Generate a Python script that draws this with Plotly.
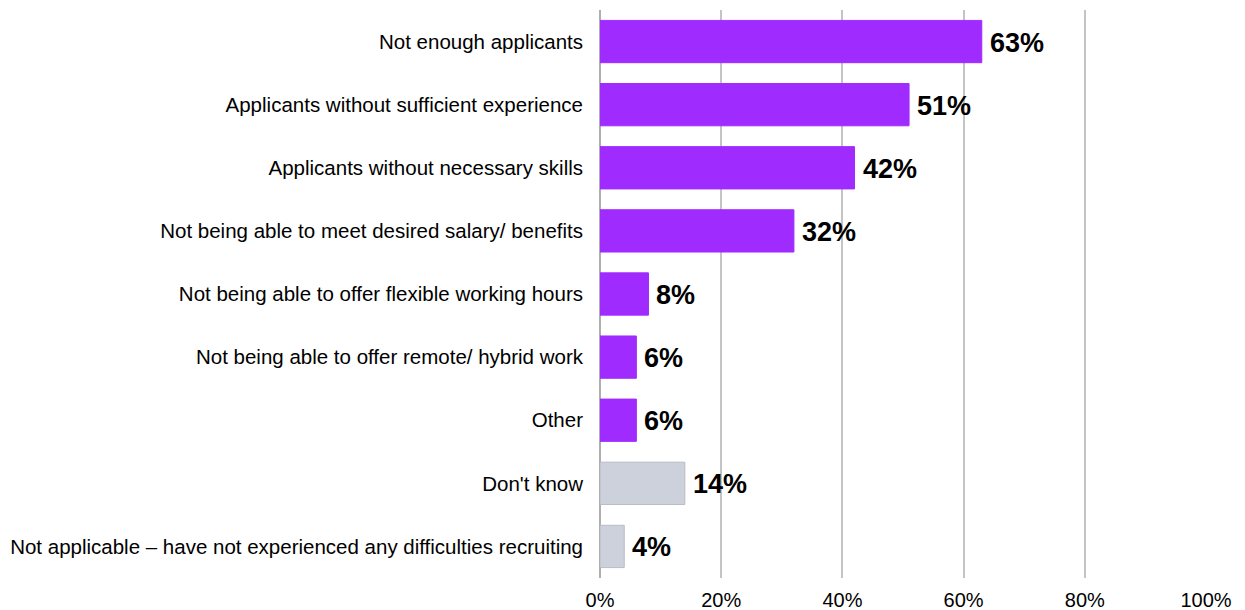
import plotly.graph_objects as go

# Reasons for recruitment difficulties (share of respondents, %)
categories = [
    "Not enough applicants",
    "Applicants without sufficient experience",
    "Applicants without necessary skills",
    "Not being able to meet desired salary/ benefits",
    "Not being able to offer flexible working hours",
    "Not being able to offer remote/ hybrid work",
    "Other",
    "Don't know",
    "Not applicable \u2013 have not experienced any difficulties recruiting",
]
values = [63, 51, 42, 32, 8, 6, 6, 14, 4]
neutral = [False, False, False, False, False, False, False, True, True]

tick_vals = [0, 20, 40, 60, 80, 100]
tick_text = ["0%", "20%", "40%", "60%", "80%", "100%"]

FONT = "Liberation Sans, Arial, sans-serif"
PURPLE = "#A02BFE"
GREY = "#CDD1DB"

colors = [GREY if n else PURPLE for n in neutral]
outlines = ["#B8BCC6" if n else PURPLE for n in neutral]

fig = go.Figure(
    go.Bar(
        x=values,
        y=categories,
        orientation="h",
        marker=dict(color=colors, line=dict(color=outlines, width=1)),
        hoverinfo="skip",
    )
)

# value labels just past the end of each bar
for cat, v in zip(categories, values):
    fig.add_annotation(
        x=v,
        y=cat,
        xref="x",
        yref="y",
        text=f"{v}%",
        showarrow=False,
        xanchor="left",
        yanchor="middle",
        xshift=6,
        yshift=-1,
        font=dict(family=FONT, size=27, color="#000000", weight="bold"),
    )

fig.update_layout(
    width=1245,
    height=610,
    margin=dict(l=600, r=39, t=10, b=32),
    paper_bgcolor="white",
    plot_bgcolor="white",
    bargap=0.33,
    showlegend=False,
    font=dict(family=FONT, size=20, color="#000000"),
)

fig.update_xaxes(
    range=[0, 100],
    tickvals=tick_vals,
    ticktext=tick_text,
    showgrid=True,
    gridcolor="#C4C4C4",
    gridwidth=1.5,
    zeroline=True,
    zerolinecolor="#AFAFAF",
    zerolinewidth=2,
    showline=False,
    ticks="",
    ticklabelstandoff=8,
    tickfont=dict(size=20),
    automargin=False,
    fixedrange=True,
)

fig.update_yaxes(
    categoryorder="array",
    categoryarray=categories[::-1],
    autorange=False,
    range=[-0.5, len(categories) - 0.5],
    showgrid=False,
    zeroline=False,
    showline=False,
    ticks="",
    ticklabelstandoff=16,
    tickfont=dict(size=20.5),
    automargin=False,
    fixedrange=True,
)

fig.write_html("out.html")
